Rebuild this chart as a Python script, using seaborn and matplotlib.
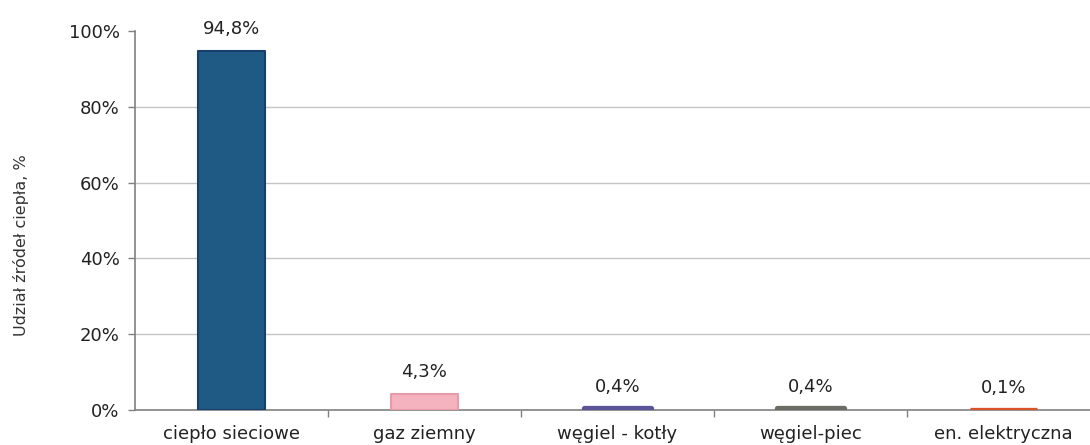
import matplotlib
matplotlib.use("Agg")
import matplotlib.pyplot as plt
import seaborn as sns
import pandas as pd
from matplotlib.ticker import FixedLocator, PercentFormatter

# Heat source shares (%)
categories = ["ciepło sieciowe", "gaz ziemny", "węgiel - kotły", "węgiel-piec", "en. elektryczna"]
shares = [94.8, 4.3, 0.4, 0.4, 0.1]
value_labels = ["94,8%", "4,3%", "0,4%", "0,4%", "0,1%"]

fill_colors = ["#1f5a85", "#f4b3bf", "#7a72bb", "#8a8a82", "#ee6a3a"]
edge_colors = ["#173f6b", "#e79aa8", "#5c5498", "#6c6c64", "#dc5228"]

sns.set_theme(style="white")
plt.rcParams["font.family"] = ["DejaVu Sans"]

df = pd.DataFrame({"kategoria": categories, "udzial": shares})

fig = plt.figure(figsize=(10.90, 4.45), dpi=100)
ax = fig.add_axes([135 / 1090, 35 / 445, 965 / 1090, 379 / 445])

sns.barplot(data=df, x="kategoria", y="udzial", hue="kategoria",
            palette=fill_colors, saturation=1, width=0.35, legend=False,
            ax=ax, zorder=5)

for patch, ec, v in zip(ax.patches, edge_colors, shares):
    patch.set_edgecolor(ec)
    patch.set_linewidth(1.5 if v > 1 else 3.8)
    patch.set_joinstyle("round")

for i, (v, lab) in enumerate(zip(shares, value_labels)):
    ax.annotate(lab, xy=(i, v), xytext=(0, 9), textcoords="offset points",
                ha="center", va="bottom", fontsize=13, color="#222222")

ax.set_xlim(-0.5, len(categories) - 0.5)
ax.set_ylim(0, 100)
ax.yaxis.set_major_locator(FixedLocator([0, 20, 40, 60, 80, 100]))
ax.yaxis.set_major_formatter(PercentFormatter(decimals=0))

# Light horizontal gridlines (none at the top)
for gy in [20, 40, 60, 80]:
    ax.axhline(gy, color="#c4c4c4", linewidth=1.0, zorder=1)

for side in ["top", "right"]:
    ax.spines[side].set_visible(False)
for side in ["left", "bottom"]:
    ax.spines[side].set_color("#808080")
    ax.spines[side].set_linewidth(1.2)
    ax.spines[side].set_zorder(2)

ax.set_xlabel("")
ax.set_ylabel("Udział źródeł ciepła, %", fontsize=11.5, color="#333333")
ax.yaxis.set_label_coords(-0.110, 0.435)

ax.tick_params(axis="y", which="major", direction="out", length=5, width=1,
               color="#808080", labelsize=13, labelcolor="#222222", left=True, pad=6)
# category labels centred, tick marks between categories
ax.tick_params(axis="x", which="major", length=0, labelsize=13,
               labelcolor="#222222", pad=11)
ax.xaxis.set_minor_locator(FixedLocator([0.5, 1.5, 2.5, 3.5]))
ax.tick_params(axis="x", which="minor", direction="out", length=5, width=1,
               color="#808080", bottom=True)

fig.savefig("out.png", dpi=100)
